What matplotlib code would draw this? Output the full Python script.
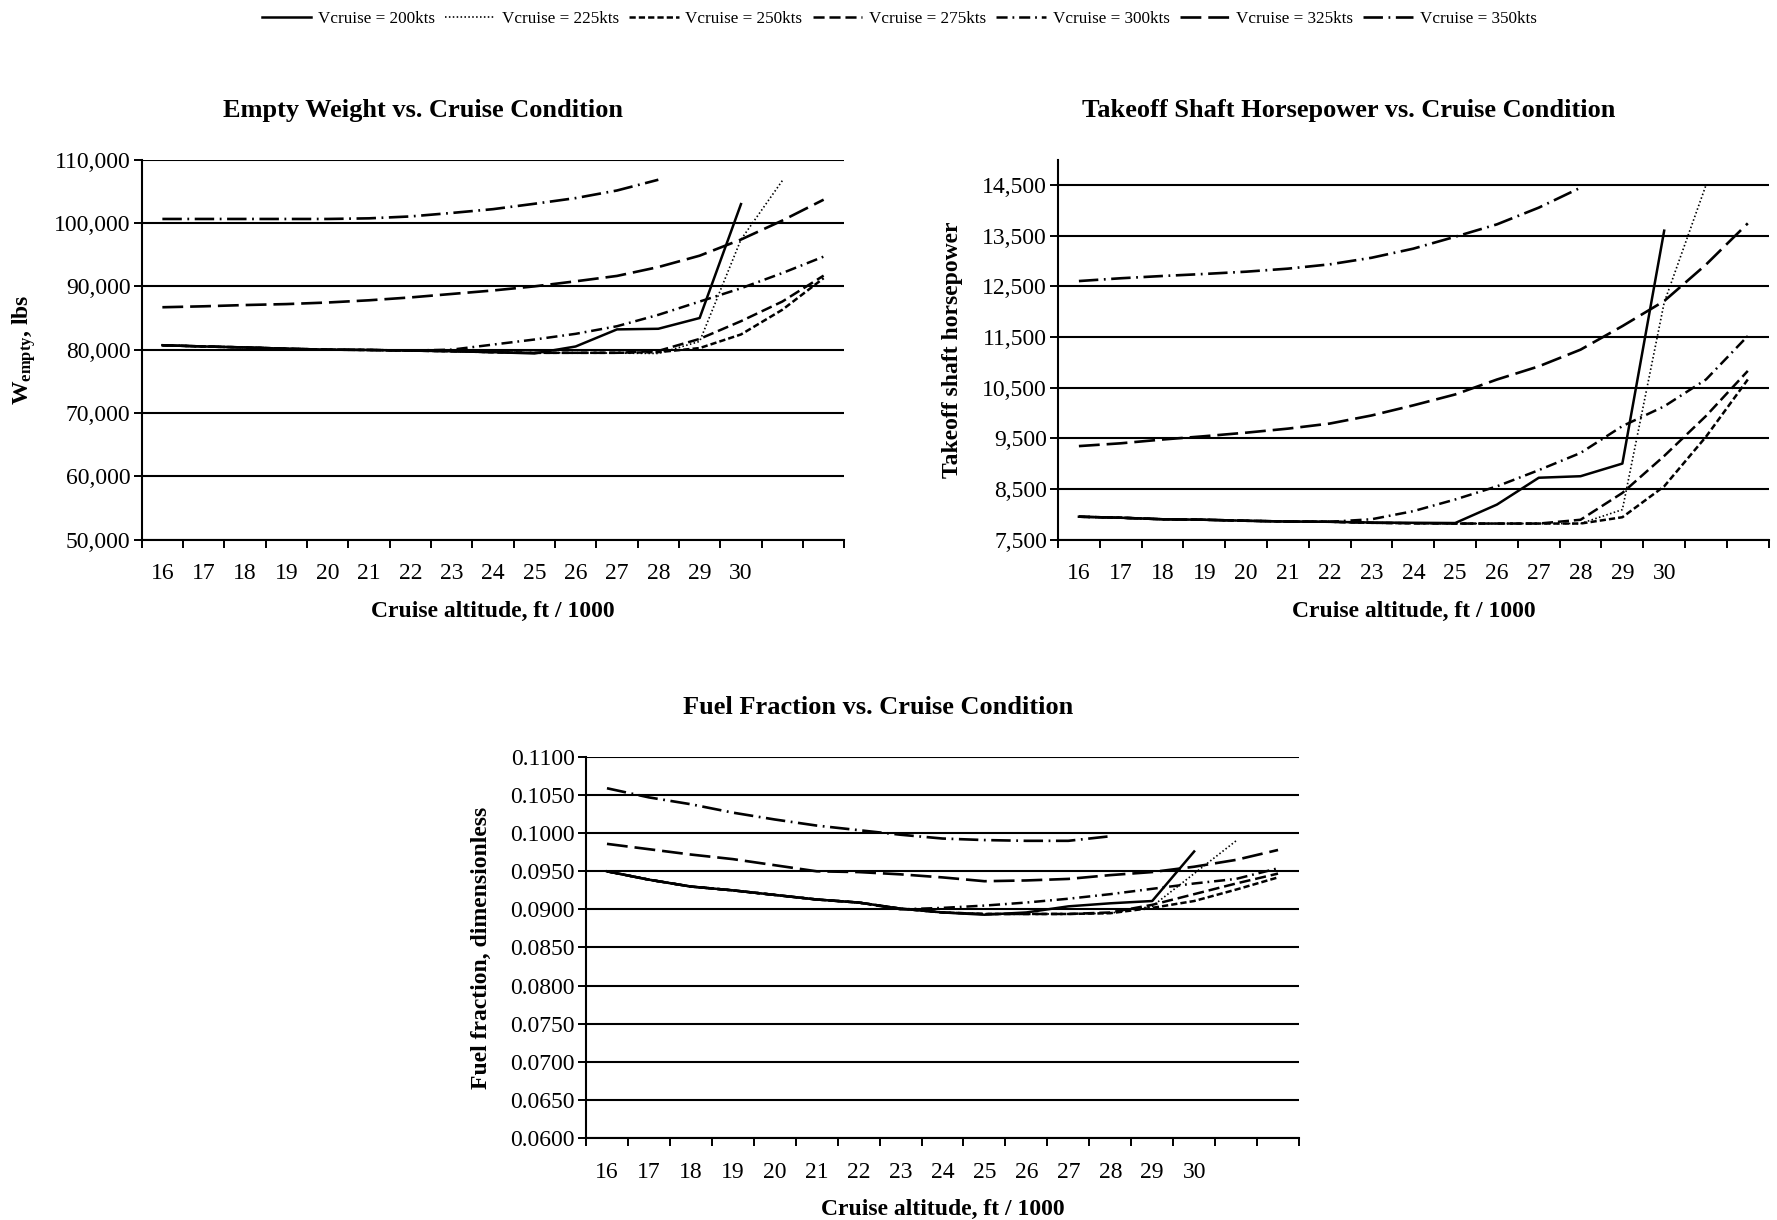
import numpy as np
import matplotlib
matplotlib.use('Agg')
import matplotlib.pyplot as plt
from matplotlib.ticker import FuncFormatter

plt.rcParams['font.family'] = 'Liberation Serif'
plt.rcParams['mathtext.fontset'] = 'custom'
plt.rcParams['mathtext.rm'] = 'Liberation Serif:bold'
plt.rcParams['mathtext.bf'] = 'Liberation Serif:bold'
plt.rcParams['mathtext.it'] = 'Liberation Serif:bold'
plt.rcParams['lines.scale_dashes'] = False

nan = np.nan

# cruise altitude categories (17 points, only the first 15 are labelled)
alt_labels = ['16', '17', '18', '19', '20', '21', '22', '23', '24', '25',
              '26', '27', '28', '29', '30']
n_pts = 17
speeds = ['200', '225', '250', '275', '300', '325', '350']

# empty weight, lbs
w_200 = [80700, 80500, 80350, 80150, 80000, 79950, 79850, 79750, 79600, 79400,
         80500, 83200, 83300, 85000, 103000, nan, nan]
w_225 = [80700, 80500, 80350, 80150, 80000, 79950, 79850, 79750, 79600, 79500,
         79500, 79450, 79400, 81300, 97400, 106700, nan]
w_250 = [80700, 80500, 80350, 80150, 80000, 79950, 79850, 79750, 79600, 79500,
         79500, 79500, 79600, 80250, 82400, 86300, 91300]
w_275 = [80700, 80500, 80350, 80150, 80000, 79950, 79850, 79750, 79600, 79500,
         79500, 79500, 79800, 81700, 84500, 87600, 91700]
w_300 = [80700, 80500, 80350, 80150, 80000, 79950, 79850, 80000, 80800, 81600,
         82500, 83700, 85500, 87600, 89700, 92100, 94700]
w_325 = [86700, 86850, 87050, 87200, 87450, 87800, 88250, 88800, 89350, 90000,
         90800, 91650, 93050, 94850, 97400, 100400, 103700]
w_350 = [100650, 100650, 100650, 100650, 100650, 100750, 101050, 101600, 102200,
         103050, 103950, 105150, 106850, nan, nan, nan, nan]

# takeoff shaft horsepower
s_200 = [7950, 7930, 7900, 7890, 7870, 7855, 7850, 7835, 7830, 7825,
         8190, 8720, 8750, 9000, 13600, nan, nan]
s_225 = [7950, 7930, 7900, 7890, 7870, 7855, 7850, 7830, 7820, 7815,
         7815, 7815, 7815, 8090, 12180, 14500, nan]
s_250 = [7950, 7930, 7900, 7890, 7870, 7855, 7850, 7830, 7820, 7815,
         7815, 7815, 7815, 7940, 8550, 9530, 10660]
s_275 = [7950, 7930, 7900, 7890, 7870, 7855, 7850, 7830, 7820, 7815,
         7815, 7815, 7890, 8420, 9150, 9940, 10830]
s_300 = [7950, 7930, 7900, 7890, 7870, 7855, 7850, 7900, 8060, 8290,
         8550, 8870, 9210, 9740, 10130, 10660, 11520]
s_325 = [9345, 9400, 9475, 9540, 9610, 9690, 9790, 9950, 10150, 10365,
         10660, 10920, 11250, 11715, 12210, 12930, 13745]
s_350 = [12605, 12660, 12705, 12745, 12790, 12850, 12935, 13065, 13245, 13480,
         13725, 14055, 14450, nan, nan, nan, nan]

# fuel fraction
f_200 = [0.0950, 0.0939, 0.0930, 0.0925, 0.0919, 0.0913, 0.0909, 0.0901, 0.0896,
         0.0893, 0.0896, 0.0904, 0.0908, 0.0911, 0.0976, nan, nan]
f_225 = [0.0950, 0.0939, 0.0930, 0.0925, 0.0919, 0.0913, 0.0909, 0.0901, 0.0896,
         0.0894, 0.0894, 0.0894, 0.0895, 0.0904, 0.0947, 0.0990, nan]
f_250 = [0.0950, 0.0939, 0.0930, 0.0925, 0.0919, 0.0913, 0.0909, 0.0901, 0.0896,
         0.0894, 0.0894, 0.0894, 0.0895, 0.0902, 0.0911, 0.0926, 0.0942]
f_275 = [0.0950, 0.0939, 0.0930, 0.0925, 0.0919, 0.0913, 0.0909, 0.0901, 0.0896,
         0.0894, 0.0894, 0.0894, 0.0896, 0.0906, 0.0920, 0.0934, 0.0947]
f_300 = [0.0950, 0.0939, 0.0930, 0.0925, 0.0919, 0.0913, 0.0909, 0.0900, 0.0902,
         0.0905, 0.0909, 0.0914, 0.0920, 0.0927, 0.0934, 0.0940, 0.0954]
f_325 = [0.0986, 0.0979, 0.0972, 0.0966, 0.0958, 0.0950, 0.0949, 0.0946, 0.0942,
         0.0937, 0.0938, 0.0940, 0.0945, 0.0949, 0.0956, 0.0965, 0.0978]
f_350 = [0.1059, 0.1047, 0.1038, 0.1027, 0.1018, 0.1010, 0.1004, 0.0998, 0.0993,
         0.0991, 0.0990, 0.0990, 0.0996, nan, nan, nan, nan]

# line look for each cruise speed (dashes in points)
line_styles = {
    '200': dict(linestyle='-', linewidth=1.8),
    '225': dict(linestyle=(0, (1.1, 1.7)), linewidth=1.2),
    '250': dict(linestyle=(0, (4.5, 2.2)), linewidth=1.8),
    '275': dict(linestyle=(0, (8, 3.5)), linewidth=1.8),
    '300': dict(linestyle=(0, (8, 3.5, 1.3, 3.5)), linewidth=1.8),
    '325': dict(linestyle=(0, (15, 5)), linewidth=1.9),
    '350': dict(linestyle=(0, (14, 4, 1.3, 4)), linewidth=1.9),
}

W, H = 1777, 1220
fig = plt.figure(figsize=(W / 100, H / 100), dpi=100)


def px_axes(left, top, right, bottom):
    return fig.add_axes([left / W, 1 - bottom / H, (right - left) / W, (bottom - top) / H])


def setup(ax, ylim, yticks, fmt, ylabel, label_x):
    ax.set_xlim(-0.5, n_pts - 0.5)
    ax.set_ylim(*ylim)
    ax.set_yticks(yticks)
    ax.yaxis.set_major_formatter(FuncFormatter(fmt))
    ax.grid(axis='y', which='major', color='black', linewidth=1.5)
    ax.set_axisbelow(True)
    ax.set_xticks(np.arange(n_pts + 1) - 0.5)
    ax.set_xticklabels([])
    ax.set_xticks(np.arange(len(alt_labels)), minor=True)
    ax.set_xticklabels(alt_labels, minor=True)
    ax.tick_params(axis='x', which='major', direction='out', length=6, width=1.4)
    ax.tick_params(axis='x', which='minor', length=0, pad=17, labelsize=17)
    ax.tick_params(axis='y', direction='out', length=6, width=1.4, pad=2, labelsize=17)
    for s in ['top', 'right']:
        ax.spines[s].set_visible(False)
    for s in ['left', 'bottom']:
        ax.spines[s].set_linewidth(1.5)
        ax.spines[s].set_color('black')
    ax.set_xlabel('Cruise altitude, ft / 1000', fontsize=17, fontweight='bold', labelpad=12)
    ax.set_ylabel(ylabel, fontsize=17, fontweight='bold')
    ax.yaxis.set_label_coords(label_x, 0.5)


x = np.arange(n_pts)

# Empty weight
ax1 = px_axes(141.7, 159.8, 844.3, 539.5)
w_series = [w_200, w_225, w_250, w_275, w_300, w_325, w_350]
handles = []
for sp, vals in zip(speeds, w_series):
    ln, = ax1.plot(x, vals, color='black', label=f'Vcruise = {sp}kts', **line_styles[sp])
    handles.append(ln)
setup(ax1, (50000, 110000), np.arange(50000, 110001, 10000),
      lambda v, p: f'{v:,.0f}', r'$\mathbf{W_{empty}}$, lbs', -0.147)

# Takeoff shaft horsepower
ax2 = px_axes(1058, 159.8, 1768.7, 539.5)
s_series = [s_200, s_225, s_250, s_275, s_300, s_325, s_350]
for sp, vals in zip(speeds, s_series):
    ax2.plot(x, vals, color='black', **line_styles[sp])
setup(ax2, (7500, 15000), np.arange(7500, 14501, 1000),
      lambda v, p: f'{v:,.0f}', 'Takeoff shaft horsepower', -0.133)

# Fuel fraction
ax3 = px_axes(586, 757, 1299, 1138)
f_series = [f_200, f_225, f_250, f_275, f_300, f_325, f_350]
for sp, vals in zip(speeds, f_series):
    ax3.plot(x, vals, color='black', **line_styles[sp])
setup(ax3, (0.06, 0.11), np.arange(0.06, 0.11001, 0.005),
      lambda v, p: f'{v:.4f}', 'Fuel fraction, dimensionless', -0.132)

fig.text(422.7 / W, 1 - 111 / H, 'Empty Weight vs. Cruise Condition',
         ha='center', va='center', fontsize=19, fontweight='bold')
fig.text(1349 / W, 1 - 111 / H, 'Takeoff Shaft Horsepower vs. Cruise Condition',
         ha='center', va='center', fontsize=19, fontweight='bold')
fig.text(878 / W, 1 - 708 / H, 'Fuel Fraction vs. Cruise Condition',
         ha='center', va='center', fontsize=19, fontweight='bold')

fig.legend(handles, [h.get_label() for h in handles], loc='center',
           bbox_to_anchor=(0.506, 1 - 19 / H), ncol=7, frameon=False, fontsize=12.3,
           handlelength=2.9, handletextpad=0.4, columnspacing=0.6)

fig.savefig('out.png', dpi=100, facecolor='white')
